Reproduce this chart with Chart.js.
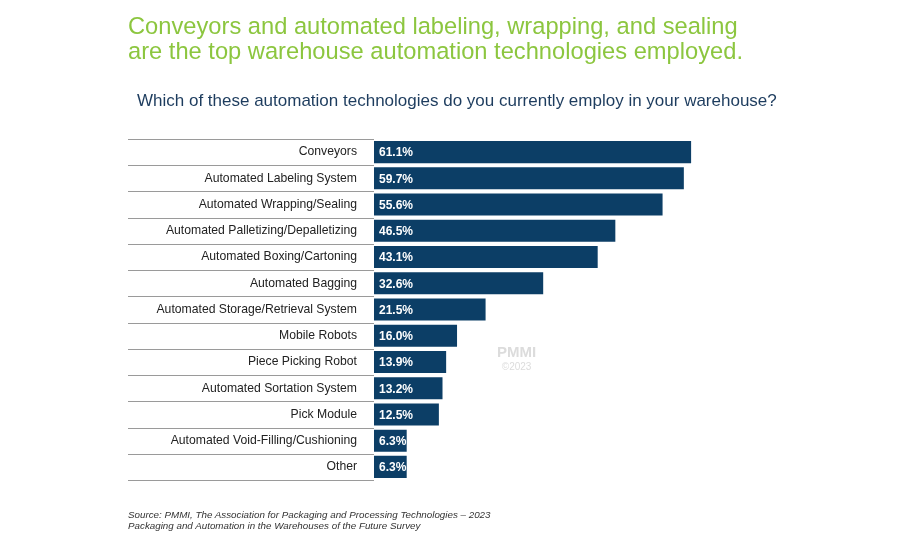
<!DOCTYPE html>
<html>
<head>
<meta charset="utf-8">
<script src="https://cdn.jsdelivr.net/npm/chart.js@4"></script>
<style>
  body { margin: 0; background: #fff; font-family: "Liberation Sans", Arial, sans-serif; }
  #wrap { position: relative; width: 900px; height: 550px; }
  #chart { position: absolute; left: 0; top: 0; }
  .title { position: absolute; left: 128px; top: 14px; color: #8cc63f; font-size: 23.7px; line-height: 25px; white-space: nowrap; }
  .sub { position: absolute; left: 137px; top: 91px; color: #1d3c5e; font-size: 17px; white-space: nowrap; }
  .src { position: absolute; left: 128px; top: 509px; font-size: 9.8px; font-style: italic; color: #333; line-height: 11px; }
  .wm { position: absolute; left: 497px; top: 344px; color: #dcdcdc; font-weight: bold; font-size: 15px; text-align: center; line-height: 15px; }
  .wm span { font-size: 10px; font-weight: normal; display: block; }
</style>
</head>
<body>
<div id="wrap">
  <canvas id="chart" width="900" height="550"></canvas>
  <div class="title">Conveyors and automated labeling, wrapping, and sealing<br>are the top warehouse automation technologies employed.</div>
  <div class="sub">Which of these automation technologies do you currently employ in your warehouse?</div>
  <div class="wm">PMMI<span>©2023</span></div>
  <div class="src">Source: PMMI, The Association for Packaging and Processing Technologies – 2023<br>Packaging and Automation in the Warehouses of the Future Survey</div>
</div>
<script>
const categories = ['Conveyors', 'Automated Labeling System', 'Automated Wrapping/Sealing',
  'Automated Palletizing/Depalletizing', 'Automated Boxing/Cartoning', 'Automated Bagging',
  'Automated Storage/Retrieval System', 'Mobile Robots', 'Piece Picking Robot',
  'Automated Sortation System', 'Pick Module', 'Automated Void-Filling/Cushioning', 'Other'];
const percents = [61.1, 59.7, 55.6, 46.5, 43.1, 32.6, 21.5, 16.0, 13.9, 13.2, 12.5, 6.3, 6.3];

const rowLines = {
  id: 'rowLines',
  afterDraw(chart) {
    const { ctx, chartArea } = chart;
    const step = (chartArea.bottom - chartArea.top) / categories.length;
    ctx.save();
    ctx.strokeStyle = '#9a9a9a';
    ctx.lineWidth = 1;
    for (let i = 0; i <= categories.length; i++) {
      const yy = Math.round(chartArea.top + i * step) + 0.5;
      ctx.beginPath();
      ctx.moveTo(128, yy);
      ctx.lineTo(chartArea.left, yy);
      ctx.stroke();
    }
    // value labels
    const meta = chart.getDatasetMeta(0);
    ctx.fillStyle = '#fff';
    ctx.font = 'bold 12px "Liberation Sans", Arial, sans-serif';
    ctx.textBaseline = 'middle';
    meta.data.forEach((bar, i) => {
      ctx.fillText(percents[i].toFixed(1) + '%', chartArea.left + 5, bar.y + 1);
    });
    ctx.restore();
  }
};

new Chart(document.getElementById('chart'), {
  type: 'bar',
  data: {
    labels: categories,
    datasets: [{ data: percents, backgroundColor: '#0c3e66', categoryPercentage: 1, barPercentage: 0.84 }]
  },
  options: {
    indexAxis: 'y',
    responsive: false,
    animation: false,
    layout: { padding: { top: 139, bottom: 70, right: 7, left: 0 } },
    plugins: { legend: { display: false }, tooltip: { enabled: false } },
    scales: {
      x: { display: false, min: 0, max: 100 },
      y: {
        grid: { display: false },
        border: { display: false },
        afterFit(scale) { scale.width = 374; },
        ticks: { color: '#222', padding: 9, font: { size: 12.2, family: '"Liberation Sans", Arial, sans-serif' } }
      }
    }
  },
  plugins: [rowLines]
});
</script>
</body>
</html>
